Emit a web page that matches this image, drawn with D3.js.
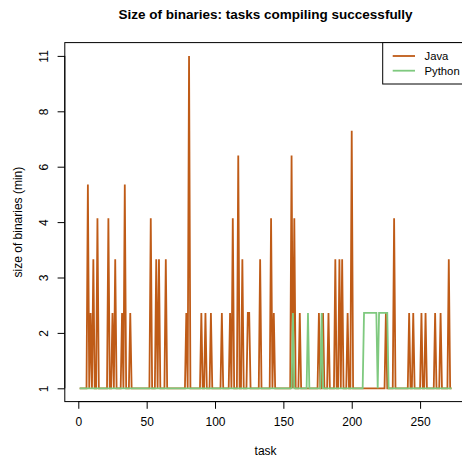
<!DOCTYPE html>
<html>
<head>
<meta charset="utf-8">
<script src="https://cdn.jsdelivr.net/npm/d3@7"></script>
<style>
  html, body { margin: 0; padding: 0; background: #fff; overflow: hidden; }
  text { font-family: "Liberation Sans", Arial, Helvetica, sans-serif; }
</style>
</head>
<body>
<svg id="chart" width="462" height="464"></svg>
<script>
// ---- data ----
const title = "Size of binaries: tasks compiling successfully";
const xLabel = "task";
const yLabel = "size of binaries (min)";
const seriesNames = ["Java", "Python"];
const seriesColors = ["#BF5B17", "#7FC97F"];

const nTasks = 273;              // tasks 1..273
const baseSize = 1;              // value of every task not listed below
const xTicks = [0, 50, 100, 150, 200, 250];
const yTicks = [1, 2, 3, 4, 6, 8, 11];

// Java: tasks whose binary size is above the baseline
const javaTasks = [7, 9, 11, 14, 22, 25, 27, 32, 34, 38, 53, 57, 59, 64, 79, 81, 90, 93, 97, 105,
                   111, 113, 117, 120, 124, 125, 133, 141, 143, 156, 158, 162, 176, 179, 183, 188,
                   191, 193, 197, 200, 225, 231, 242, 245, 251, 254, 261, 265, 271];
const javaSizes = [5.36, 2.36, 3.33, 4.14, 4.14, 2.36, 3.33, 2.36, 5.36, 2.36, 4.14, 3.33, 3.33, 3.33, 2.36, 11, 2.36, 2.36, 2.36, 2.36,
                   2.36, 4.14, 6.4, 3.33, 2.36, 2.36, 3.33, 4.14, 2.36, 6.4, 4.14, 2.36, 2.36, 2.36, 2.36, 3.33,
                   3.33, 3.33, 2.36, 7.3, 2.36, 4.14, 2.36, 2.36, 2.36, 2.36, 2.36, 2.36, 3.33];

// Python: tasks whose binary size is above the baseline
const pythonTasks = [157, 168, 178, 209, 210, 211, 212, 213, 214, 215, 216, 217, 218,
                     220, 221, 222, 223, 224, 225, 226];
const pythonSizes = [2.36, 2.36, 2.36, 2.36, 2.36, 2.36, 2.36, 2.36, 2.36, 2.36, 2.36, 2.36, 2.36,
                     2.36, 2.36, 2.36, 2.36, 2.36, 2.36, 2.36];

// ---- build series ----
function buildSeries(tasks, sizes) {
  const m = new Map(tasks.map((t, i) => [t, sizes[i]]));
  return d3.range(1, nTasks + 1).map(t => ({ x: t, y: m.has(t) ? m.get(t) : baseSize }));
}
const series = [buildSeries(javaTasks, javaSizes), buildSeries(pythonTasks, pythonSizes)];

// ---- layout ----
const plot = { left: 64.8, right: 466.4, top: 42.6, bottom: 401.6 };
const svg = d3.select("#chart");

const xPad = (nTasks - 1) * 0.04;
const x = d3.scaleLinear().domain([1 - xPad, nTasks + xPad]).range([plot.left, plot.right]);

// y axis: tick labels equally spaced (transformed axis)
const nY = yTicks.length - 1;
const yPad = nY * 0.04;
const yIdx = d3.scaleLinear().domain([-yPad, nY + yPad]).range([plot.bottom, plot.top]);
const y = d3.scaleLinear().domain(yTicks).range(yTicks.map((_, i) => yIdx(i)));

// title
svg.append("text")
  .attr("x", (plot.left + plot.right) / 2).attr("y", 19)
  .attr("text-anchor", "middle").attr("font-weight", "bold").attr("font-size", 13.5)
  .text(title);

// lines
const line = d3.line().x(d => x(d.x)).y(d => y(d.y));
series.forEach((s, i) => {
  svg.append("path").datum(s)
    .attr("fill", "none").attr("stroke", seriesColors[i])
    .attr("stroke-width", 1.8).attr("stroke-linejoin", "miter").attr("stroke-miterlimit", 10)
    .attr("d", line);
});

// box
svg.append("rect")
  .attr("x", plot.left).attr("y", plot.top)
  .attr("width", plot.right - plot.left).attr("height", plot.bottom - plot.top)
  .attr("fill", "none").attr("stroke", "#000").attr("stroke-width", 1);

// x axis
const xAxis = d3.axisBottom(x).tickValues(xTicks).tickSize(7.2).tickPadding(9).tickFormat(d3.format("d"));
const gx = svg.append("g").attr("transform", `translate(0,${plot.bottom})`).call(xAxis);
gx.select(".domain").attr("d", `M${x(xTicks[0])},0H${x(xTicks[xTicks.length - 1])}`);
gx.selectAll("text").attr("font-size", 12).attr("fill", "#000").attr("font-family", "Liberation Sans, Arial, sans-serif");
gx.selectAll("line, path").attr("stroke", "#000");

// y axis
const yAxis = d3.axisLeft(y).tickValues(yTicks).tickSize(7.2).tickFormat(d => String(d));
const gy = svg.append("g").attr("transform", `translate(${plot.left},0)`).call(yAxis);
gy.select(".domain").attr("d", `M0,${y(yTicks[0])}V${y(yTicks[yTicks.length - 1])}`);
gy.selectAll("line, path").attr("stroke", "#000");
gy.selectAll(".tick text")
  .attr("font-size", 12).attr("fill", "#000").attr("font-family", "Liberation Sans, Arial, sans-serif")
  .attr("x", null).attr("dy", null)
  .attr("text-anchor", "middle")
  .attr("transform", "translate(-17.3,0) rotate(-90)");

// axis titles
svg.append("text")
  .attr("x", (plot.left + plot.right) / 2).attr("y", 455)
  .attr("text-anchor", "middle").attr("font-size", 12).text(xLabel);
svg.append("text")
  .attr("transform", `translate(22,${(plot.top + plot.bottom) / 2}) rotate(-90)`)
  .attr("text-anchor", "middle").attr("font-size", 12).text(yLabel);

// legend
const lg = { left: 382.7, top: plot.top, bottom: 84 };
svg.append("rect")
  .attr("x", lg.left).attr("y", lg.top).attr("width", plot.right - lg.left).attr("height", lg.bottom - lg.top)
  .attr("fill", "#fff").attr("stroke", "#000").attr("stroke-width", 1);
const legendY = [56, 70.7];
seriesNames.forEach((name, i) => {
  svg.append("line")
    .attr("x1", 392.7).attr("x2", 415).attr("y1", legendY[i]).attr("y2", legendY[i])
    .attr("stroke", seriesColors[i]).attr("stroke-width", 1.8);
  svg.append("text")
    .attr("x", 424.5).attr("y", legendY[i] + 4).attr("font-size", 11.3).text(name);
});
</script>
</body>
</html>
